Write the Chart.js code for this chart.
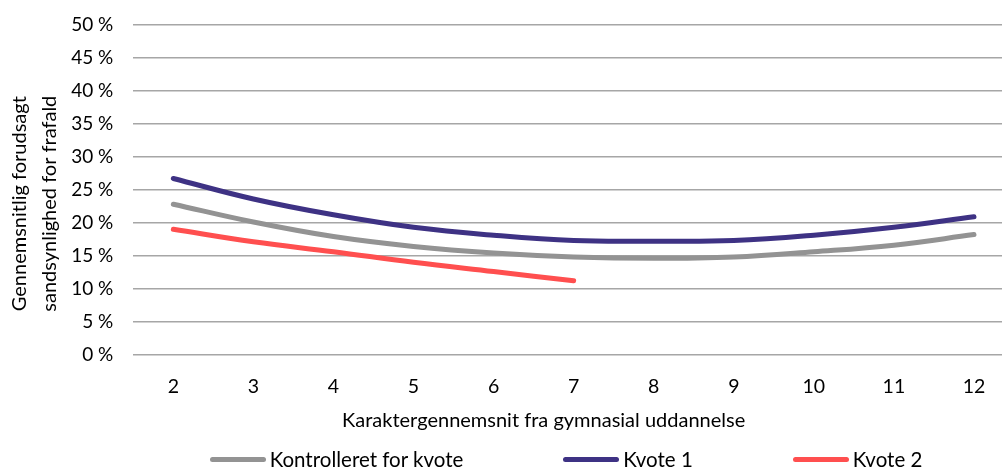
<!DOCTYPE html>
<html lang="da">
<head>
<meta charset="utf-8">
<title>Frafald efter karaktergennemsnit</title>
<script src="https://cdn.jsdelivr.net/npm/chart.js@4.4.1/dist/chart.umd.min.js"></script>
<style>
    html, body { margin: 0; padding: 0; background: #fff; overflow: hidden; }
    #wrap { position: relative; width: 1002px; height: 469px; }
    #graf { display: block; }
    #legende {
        position: absolute; left: 0; top: 447px; width: 1002px;
        display: flex; justify-content: center; padding-left: 130px; box-sizing: border-box;
        font-family: Lato, sans-serif; font-size: 20.5px; color: #000;
    }
    #legende .punkt { display: flex; align-items: center; margin: 0 50px; }
    #legende .streg { width: 56px; height: 5px; border-radius: 3px; margin-right: 4px; }
</style>
</head>
<body>
<div id="wrap">
    <canvas id="graf" width="1002" height="469"></canvas>
    <div id="legende"></div>
</div>
<script>
var karakterer = [2, 3, 4, 5, 6, 7, 8, 9, 10, 11, 12];
var kontrolleret = [22.8, 20.1, 17.9, 16.4, 15.4, 14.8, 14.6, 14.8, 15.6, 16.6, 18.2];
var kvote1 = [26.7, 23.6, 21.2, 19.3, 18.1, 17.3, 17.2, 17.3, 18.1, 19.3, 20.9];
var kvote2 = [19.0, 17.1, 15.6, 14.0, 12.6, 11.2];
var yTicks = [0, 5, 10, 15, 20, 25, 30, 35, 40, 45, 50];

var xTitel = 'Karaktergennemsnit fra gymnasial uddannelse';
var yTitel = ['Gennemsnitlig forudsagt', 'sandsynlighed for frafald'];

var FONT = 'Lato, sans-serif';

function punkter(vaerdier) {
    return vaerdier.map(function(v, i) {
        return { x: karakterer[i], y: v };
    });
}

function serie(label, farve, vaerdier) {
    return {
        label: label,
        data: punkter(vaerdier),
        borderColor: farve,
        backgroundColor: farve,
        borderWidth: 5,
        borderCapStyle: 'round',
        borderJoinStyle: 'round',
        pointRadius: 0,
        pointHoverRadius: 0,
        tension: 0.4,
        fill: false
    };
}

// aksetitler tegnes selv, så de kan placeres frit i forhold til plotområdet
var aksetitler = {
    id: 'aksetitler',
    afterDraw: function(chart) {
        var c = chart.ctx;
        var a = chart.chartArea;
        c.save();
        c.fillStyle = '#000';
        c.font = '20px ' + FONT;
        c.textAlign = 'center';
        c.textBaseline = 'middle';
        c.fillText(xTitel, (a.left + a.right) / 2 - 24, a.bottom + 66);
        c.translate(20, (a.top + a.bottom) / 2 + 14);
        c.rotate(-Math.PI / 2);
        yTitel.forEach(function(linje, i) {
            c.fillText(linje, 0, i * 30);
        });
        c.restore();
    }
};

var ctx = document.getElementById('graf').getContext('2d');

var graf = new Chart(ctx, {
    type: 'line',
    data: {
        datasets: [
            serie('Kontrolleret for kvote', '#939393', kontrolleret),
            serie('Kvote 1', '#3e3284', kvote1),
            serie('Kvote 2', '#ff4f4f', kvote2)
        ]
    },
    plugins: [aksetitler],
    options: {
        responsive: false,
        animation: false,
        layout: { padding: { top: 24.7, right: 0, bottom: 39, left: 0 } },
        plugins: {
            legend: { display: false },
            tooltip: { enabled: false }
        },
        scales: {
            x: {
                type: 'linear',
                min: 1.5,
                max: 12.35,
                afterBuildTicks: function(axis) {
                    axis.ticks = karakterer.map(function(k) { return { value: k }; });
                },
                afterFit: function(axis) {
                    axis.height = 75.3;
                },
                grid: { display: false },
                border: { display: false },
                ticks: {
                    color: '#000',
                    font: { family: FONT, size: 19.5 },
                    padding: 12,
                    maxRotation: 0,
                    autoSkip: false
                }
            },
            y: {
                min: 0,
                max: 50,
                afterBuildTicks: function(axis) {
                    axis.ticks = yTicks.map(function(t) { return { value: t }; });
                },
                afterFit: function(axis) {
                    axis.width = 133.3;
                },
                grid: {
                    color: '#a6a6a6',
                    lineWidth: 1.5,
                    drawTicks: true,
                    tickLength: 20,
                    tickColor: 'rgba(0,0,0,0)'
                },
                border: { display: false },
                ticks: {
                    color: '#000',
                    font: { family: FONT, size: 19 },
                    padding: 0,
                    callback: function(v) { return v + ' %'; }
                }
            }
        }
    }
});

// legende under grafen, bygget ud fra graf-serierne
var legende = document.getElementById('legende');
graf.data.datasets.forEach(function(ds) {
    var punkt = document.createElement('div');
    punkt.className = 'punkt';
    var streg = document.createElement('span');
    streg.className = 'streg';
    streg.style.background = ds.borderColor;
    var tekst = document.createElement('span');
    tekst.textContent = ds.label;
    punkt.appendChild(streg);
    punkt.appendChild(tekst);
    legende.appendChild(punkt);
});
</script>
</body>
</html>
